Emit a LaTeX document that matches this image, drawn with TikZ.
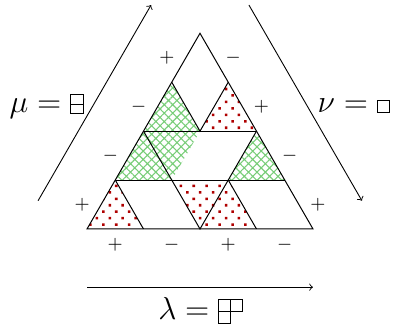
\documentclass[tikz,border=0pt]{standalone}
\usepackage{fix-cm}
\usetikzlibrary{patterns.meta,calc}
\definecolor{hatchgreen}{RGB}{120,205,120}
\definecolor{dotred}{RGB}{175,0,0}
\tikzset{
  edge/.style={line width=0.5pt, black},
  greentile/.style={pattern={Hatch[angle=45,distance=3.0pt,line width=0.55pt]}, pattern color=hatchgreen},
  redtile/.style={pattern={Dots[angle=45,distance=4.6pt,radius=0.9pt]}, pattern color=dotred},
  sign/.style={inner sep=0pt, font=\fontsize{9.5}{11}\selectfont},
  bigl/.style={inner sep=0pt, font=\fontsize{16}{19}\selectfont},
  yt/.style={line width=0.5pt},
  dirarrow/.style={->, line width=0.45pt}
}
\begin{document}
\begin{tikzpicture}
\useasboundingbox (-1.540,-1.752) rectangle (5.416,4.053);
% lattice points
\coordinate (r0a) at (0,0);
\coordinate (r0b) at (1,0);
\coordinate (r0c) at (2,0);
\coordinate (r0d) at (3,0);
\coordinate (r0e) at (4,0);
\coordinate (r1a) at (0.5,0.866);
\coordinate (r1b) at (1.5,0.866);
\coordinate (r1c) at (2.5,0.866);
\coordinate (r1d) at (3.5,0.866);
\coordinate (r2a) at (1,1.732);
\coordinate (r2b) at (2,1.732);
\coordinate (r2c) at (3,1.732);
\coordinate (r3a) at (1.5,2.598);
\coordinate (r3b) at (2.5,2.598);
\coordinate (top) at (2,3.464);
% green tiles
\fill[greentile] (r2a) -- (r2b) -- (r3a) -- cycle;
\fill[greentile] (r1a) -- (r1b) -- (r2b) -- (r2a) -- cycle;
\fill[greentile] (r1c) -- (r1d) -- (r2c) -- cycle;
% red tiles
\fill[redtile] (r2b) -- (r2c) -- (r3b) -- cycle;
\fill[redtile] (r0a) -- (r0b) -- (r1a) -- cycle;
\fill[redtile] (r1b) -- (r1c) -- (r0d) -- (r0c) -- cycle;
% edges
\draw[edge] (r0a) -- (r0e) -- (top) -- cycle;
\draw[edge] (r2a) -- (r2c);
\draw[edge] (r1a) -- (r1d);
\draw[edge] (r3a) -- (r2b) -- (r3b);
\draw[edge] (r2a) -- (r0c) -- (r2c);
\draw[edge] (r1a) -- (r0b);
\draw[edge] (r1c) -- (r0d);
% signs, left edge
\node[sign] (sl1) at (1.414,3.031) {$+$};
\node[sign] (sl2) at (0.914,2.165) {$-$};
\node[sign] (sl3) at (0.414,1.299) {$-$};
\node[sign] (sl4) at (-0.086,0.433) {$+$};
% right edge
\node[sign] (sr1) at (2.586,3.031) {$-$};
\node[sign] (sr2) at (3.086,2.165) {$+$};
\node[sign] (sr3) at (3.586,1.299) {$-$};
\node[sign] (sr4) at (4.086,0.433) {$+$};
% bottom edge
\node[sign] (sb1) at (0.5,-0.283) {$+$};
\node[sign] (sb2) at (1.5,-0.283) {$-$};
\node[sign] (sb3) at (2.5,-0.283) {$+$};
\node[sign] (sb4) at (3.5,-0.283) {$-$};
% direction arrows
\coordinate (la) at ($(r0a)+(-0.866,0.5)$);
\coordinate (lb) at ($(top)+(-0.866,0.5)$);
\coordinate (ra) at ($(top)+(0.866,0.5)$);
\coordinate (rb) at ($(r0e)+(0.866,0.5)$);
\coordinate (ba) at ($(r0a)+(0,-1.03)$);
\coordinate (bb) at ($(r0e)+(0,-1.03)$);
\draw[dirarrow] (la) -- (lb);
\draw[dirarrow] (ra) -- (rb);
\draw[dirarrow] (ba) -- (bb);
% mu label
\node[bigl, anchor=base east] (mu) at (-0.446,2.07) {$\mu=$};
\draw[yt] (-0.288,2.048) rectangle (-0.065,2.372);
\draw[yt] (-0.288,2.21) -- (-0.065,2.21);
% nu label
\node[bigl, anchor=base east] (nu) at (4.982,2.053) {$\nu=$};
\draw[yt] (5.14,2.065) rectangle (5.36,2.27);
% lambda label
\node[bigl, anchor=base east] (lam) at (2.174,-1.605) {$\lambda=$};
\draw[yt] (2.324,-1.244) rectangle (2.756,-1.464);
\draw[yt] (2.54,-1.244) -- (2.54,-1.464);
\draw[yt] (2.324,-1.464) rectangle (2.54,-1.669);
\end{tikzpicture}
\end{document}
